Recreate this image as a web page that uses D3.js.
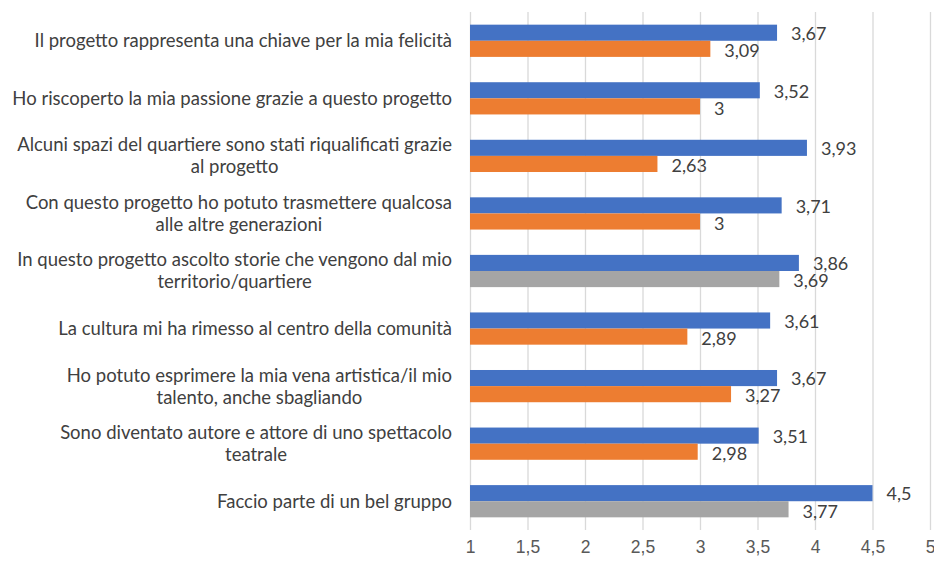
<!DOCTYPE html>
<html>
<head>
<meta charset="utf-8">
<script src="https://cdn.jsdelivr.net/npm/d3@7"></script>
<style>
  body { margin: 0; background: #fff; }
  svg { display: block; font-family: Lato, "Open Sans", sans-serif; }
</style>
</head>
<body>
<svg id="chart" width="934" height="561"></svg>
<script>
// category labels, already broken into lines as in the picture
var categories = [
    ['Il progetto rappresenta una chiave per la mia felicità'],
    ['Ho riscoperto la mia passione grazie a questo progetto'],
    ['Alcuni spazi del quartiere sono stati riqualificati grazie', 'al progetto'],
    ['Con questo progetto ho potuto trasmettere qualcosa', 'alle altre generazioni'],
    ['In questo progetto ascolto storie che vengono dal mio', 'territorio/quartiere'],
    ['La cultura mi ha rimesso al centro della comunità'],
    ['Ho potuto esprimere la mia vena artistica/il mio', 'talento, anche sbagliando'],
    ['Sono diventato autore e attore di uno spettacolo', 'teatrale'],
    ['Faccio parte di un bel gruppo']
];
var firstValues  = [3.67, 3.52, 3.93, 3.71, 3.86, 3.61, 3.67, 3.51, 4.5];
var secondValues = [3.09, 3, 2.63, 3, 3.69, 2.89, 3.27, 2.98, 3.77];
// which rows have the grey second bar instead of the orange one
var secondKind   = ['o', 'o', 'o', 'o', 'g', 'o', 'o', 'o', 'g'];
var xTicks = [1, 1.5, 2, 2.5, 3, 3.5, 4, 4.5, 5];

var colors = { blue: '#4472c4', o: '#ed7d31', g: '#a5a5a5' };

var svg = d3.select('#chart');

var itFormat = d3.formatLocale({ decimal: ',', thousands: '.', grouping: [3], currency: ['', '€'] }).format('~g');

var x = d3.scaleLinear().domain([1, 5]).range([470, 930]);
var y = d3.scaleBand()
    .domain(d3.range(categories.length))
    .range([12, 530])
    .paddingInner(0.44)
    .paddingOuter(0.22);
var sub = d3.scaleBand().domain([0, 1]).range([0, y.bandwidth()]);

// gridlines + tick labels
var axis = svg.append('g')
    .attr('transform', 'translate(0,530)')
    .call(d3.axisBottom(x).tickValues(xTicks).tickSize(-518).tickPadding(11).tickFormat(itFormat));
axis.select('.domain').remove();
axis.selectAll('.tick line').attr('stroke', '#d9d9d9').attr('stroke-width', 1.3);
axis.selectAll('.tick text').attr('fill', '#595959').style('font-size', '17.5px');

var rows = svg.append('g').selectAll('g')
    .data(categories)
    .enter().append('g')
    .attr('transform', function(d, i) { return 'translate(0,' + y(i) + ')'; });

// first (blue) series
rows.append('rect')
    .attr('x', x(1))
    .attr('y', sub(0))
    .attr('width', function(d, i) { return x(firstValues[i]) - x(1); })
    .attr('height', sub.bandwidth())
    .attr('fill', colors.blue);

// second series, orange or grey
rows.append('rect')
    .attr('x', x(1))
    .attr('y', sub(1))
    .attr('width', function(d, i) { return x(secondValues[i]) - x(1); })
    .attr('height', sub.bandwidth())
    .attr('fill', function(d, i) { return colors[secondKind[i]]; });

// value labels
rows.append('text')
    .attr('x', function(d, i) { return x(firstValues[i]) + 14; })
    .attr('y', sub(0) + sub.bandwidth() / 2 + 1)
    .attr('dy', '.35em')
    .attr('fill', '#404040')
    .style('font-size', '18px')
    .text(function(d, i) { return itFormat(firstValues[i]); });

rows.append('text')
    .attr('x', function(d, i) { return x(secondValues[i]) + 14; })
    .attr('y', sub(1) + sub.bandwidth() / 2 + 2)
    .attr('dy', '.35em')
    .attr('fill', '#404040')
    .style('font-size', '18px')
    .text(function(d, i) { return itFormat(secondValues[i]); });

// category labels: block right-aligned, lines centred inside the block
var labelRight = 452, lineHeight = 22;
rows.each(function(lines) {
    var g = d3.select(this);
    var texts = lines.map(function(line, k) {
        return g.append('text')
            .attr('y', y.bandwidth() / 2 + (k - (lines.length - 1) / 2) * lineHeight)
            .attr('dy', '.35em')
            .attr('text-anchor', 'middle')
            .attr('fill', '#404040')
            .style('font-size', '18.5px')
            .text(line);
    });
    var maxW = d3.max(texts, function(t) { return t.node().getComputedTextLength(); });
    texts.forEach(function(t) { t.attr('x', labelRight - maxW / 2); });
});
</script>
</body>
</html>
